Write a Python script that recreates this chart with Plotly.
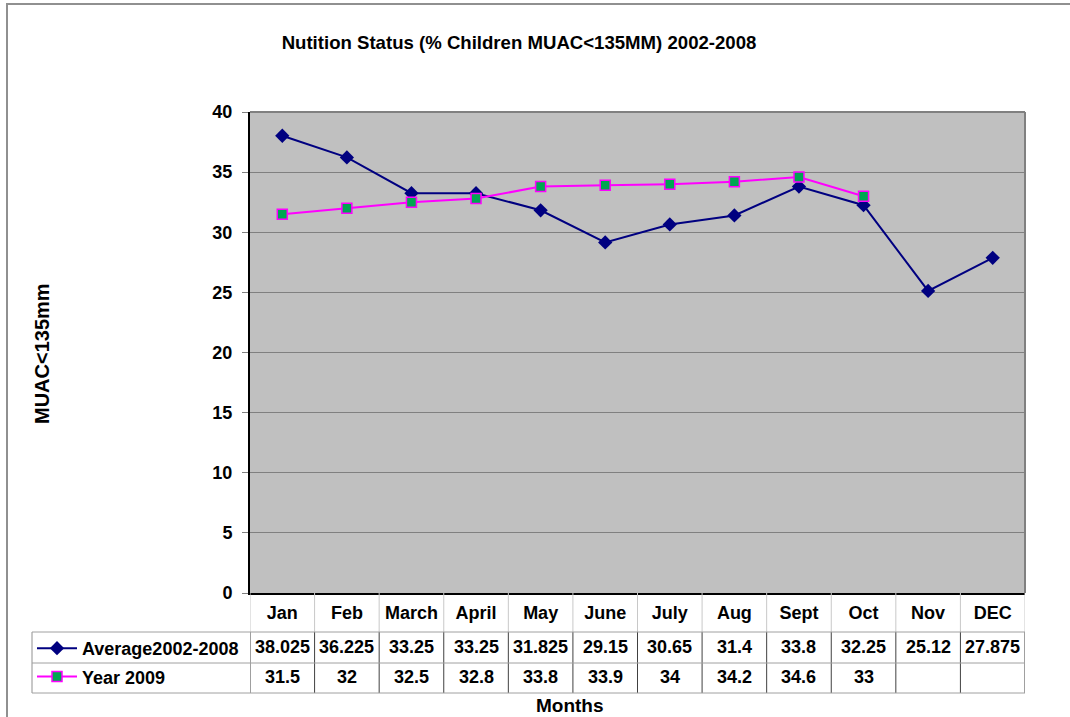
import plotly.graph_objects as go

months = ["Jan", "Feb", "March", "April", "May", "June", "July", "Aug", "Sept", "Oct", "Nov", "DEC"]
avg_2002_2008 = [38.025, 36.225, 33.25, 33.25, 31.825, 29.15, 30.65, 31.4, 33.8, 32.25, 25.12, 27.875]
year_2009 = [31.5, 32, 32.5, 32.8, 33.8, 33.9, 34, 34.2, 34.6, 33, None, None]
series_names = ["Average2002-2008", "Year 2009"]
y_ticks = [0, 5, 10, 15, 20, 25, 30, 35, 40]

FONT = "Liberation Sans, Arial, sans-serif"
W, H = 1070, 717
L, R, T, B = 250, 45, 112, 124
PW, PH = W - L - R, H - T - B


def px(xp):
    return (xp - L) / PW


def py(yp):
    return (H - B - yp) / PH


fig = go.Figure()
fig.add_trace(go.Scatter(
    x=months, y=avg_2002_2008, name=series_names[0], mode="lines+markers",
    line=dict(color="#000080", width=2),
    marker=dict(symbol="diamond", size=11, color="#000080"),
    legendgroup="a",
))
fig.add_trace(go.Scatter(
    x=months, y=year_2009, name=series_names[1], mode="lines+markers",
    line=dict(color="#FF00FF", width=2),
    marker=dict(symbol="square", size=10, color="#00A651", line=dict(color="#FF00FF", width=1.5)),
    legendgroup="b",
))

shapes = []
# outer chart border
shapes.append(dict(type="rect", xref="paper", yref="paper", x0=px(7), x1=px(1080), y0=py(4), y1=py(730),
                   line=dict(color="#909090", width=2), layer="below"))
# plot area top and right border
shapes.append(dict(type="line", xref="paper", yref="paper", x0=0, x1=1, y0=1, y1=1,
                   line=dict(color="#808080", width=2)))
shapes.append(dict(type="line", xref="paper", yref="paper", x0=1, x1=1, y0=0, y1=1,
                   line=dict(color="#808080", width=2)))

# data table grid
n = len(months)
y_head_bot = py(632)
y_row1_bot = py(663)
y_row2_bot = py(693)
for i in range(n + 1):
    xb = i - 0.5
    shapes.append(dict(type="line", xref="x", yref="paper", x0=xb, x1=xb, y0=0, y1=y_head_bot,
                       line=dict(color="#C8C8C8", width=1)))
    shapes.append(dict(type="line", xref="x", yref="paper", x0=xb, x1=xb, y0=y_head_bot, y1=y_row2_bot,
                       line=dict(color="#404040", width=1)))
shapes.append(dict(type="line", xref="paper", yref="paper", x0=px(32), x1=px(32), y0=y_head_bot, y1=y_row2_bot,
                   line=dict(color="#909090", width=1)))
for yy in (y_head_bot, y_row1_bot, y_row2_bot):
    shapes.append(dict(type="line", xref="paper", yref="paper", x0=px(32), x1=1, y0=yy, y1=yy,
                       line=dict(color="#A0A0A0", width=1)))

annotations = []
row_y = [py(647), py(677)]
for r, series in enumerate([avg_2002_2008, year_2009]):
    for i, v in enumerate(series):
        if v is None:
            continue
        annotations.append(dict(x=i, y=row_y[r], xref="x", yref="paper", text=f"<b>{v:g}</b>",
                                showarrow=False, xanchor="center", yanchor="middle",
                                font=dict(family=FONT, size=18, color="black")))

annotations.append(dict(x=px(570), y=py(705), xref="paper", yref="paper", text="<b>Months</b>",
                        showarrow=False, xanchor="center", yanchor="middle",
                        font=dict(family=FONT, size=19, color="black")))
annotations.append(dict(x=px(42), y=py(354), xref="paper", yref="paper", text="<b>MUAC<135mm</b>",
                        showarrow=False, xanchor="center", yanchor="middle", textangle=-90,
                        font=dict(family=FONT, size=20, color="black")))

fig.update_layout(
    width=W, height=H,
    margin=dict(l=L, r=R, t=T, b=B),
    paper_bgcolor="white",
    plot_bgcolor="#C0C0C0",
    title=dict(text="<b>Nutition Status (% Children MUAC<135MM) 2002-2008</b>",
               x=519 / W, y=1 - 42 / H, xanchor="center", yanchor="middle",
               font=dict(family=FONT, size=18.6, color="black")),
    xaxis=dict(type="category", range=[-0.5, n - 0.5], showgrid=False, zeroline=False,
               showline=True, linecolor="black", linewidth=2, ticks="",
               ticklabelstandoff=2,
               tickfont=dict(family=FONT, size=18, color="black"),
               tickmode="array", tickvals=months, ticktext=[f"<b>{m}</b>" for m in months]),
    yaxis=dict(range=[0, 40], tickmode="array", tickvals=y_ticks, ticktext=[f"<b>{t}</b>" for t in y_ticks],
               showgrid=True, gridcolor="#808080", gridwidth=1, zeroline=False,
               showline=True, linecolor="black", linewidth=2,
               ticks="outside", ticklen=6, tickcolor="#808080", ticklabelstandoff=6,
               tickfont=dict(family=FONT, size=18, color="black")),
    showlegend=True,
    legend=dict(x=px(32), y=py(630), xanchor="left", yanchor="top", orientation="v",
                traceorder="grouped", tracegroupgap=2, itemwidth=40,
                bgcolor="rgba(0,0,0,0)", borderwidth=0,
                font=dict(family=FONT, size=18, color="black", weight="bold")),
    shapes=shapes,
    annotations=annotations,
)

fig.write_html("out.html", config={"displayModeBar": False},
               post_script="document.body.style.margin='0';document.body.style.overflow='hidden';")
